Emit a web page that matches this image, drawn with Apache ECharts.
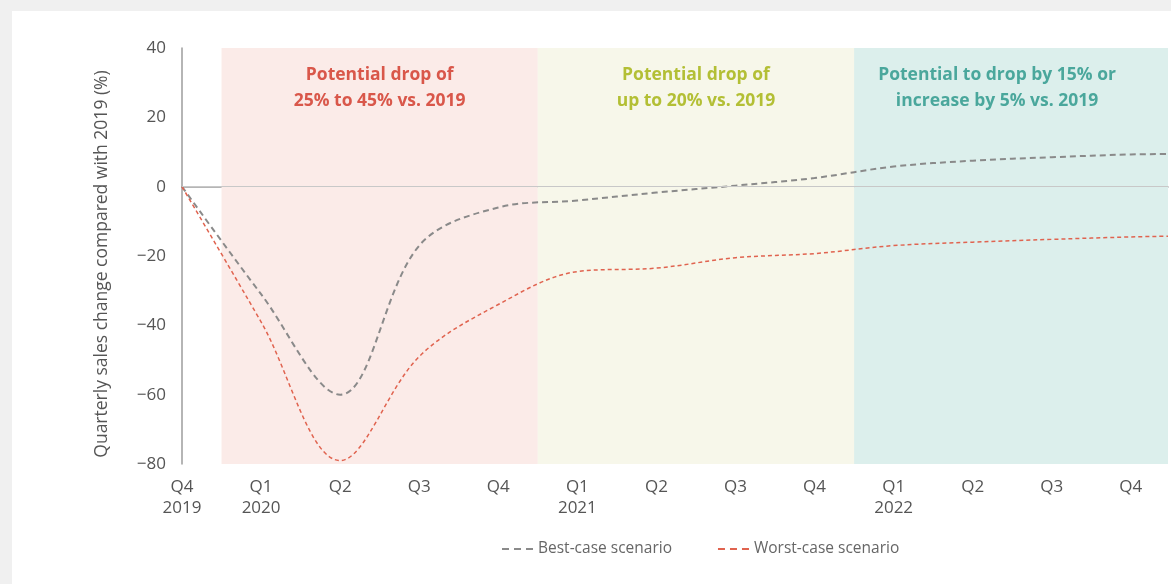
<!DOCTYPE html>
<html>
<head>
<meta charset="utf-8">
<script src="https://cdn.jsdelivr.net/npm/echarts@6/dist/echarts.min.js"></script>
<style>
  html, body { margin: 0; padding: 0; background: #f0f0f0; width: 1171px; height: 584px; overflow: hidden; }
  #card { position: absolute; left: 12px; top: 11px; right: -20px; bottom: -20px; background: #ffffff; }
  #chart { position: absolute; left: 0; top: 0; width: 1171px; height: 584px; }
</style>
</head>
<body>
<div id="card"></div>
<div id="chart"></div>
<script>
// Quarter tick labels, Q4 2019 through Q4 2022
const quarterLabels = ['Q4\n2019', 'Q1\n2020', 'Q2', 'Q3', 'Q4', 'Q1\n2021', 'Q2', 'Q3', 'Q4', 'Q1\n2022', 'Q2', 'Q3', 'Q4'];

// Quarterly sales change vs. 2019 (%) for each quarter above
const bestCase  = [0, -31, -60, -17, -6, -4, -1.7, 0.3, 2.5, 5.8, 7.5, 8.5, 9.3];
const worstCase = [0, -39, -79, -49, -34, -24.5, -23.5, -20.5, -19.3, -17, -16, -15.2, -14.5];
// Level carried to the right edge of the plot
const bestTail = 9.4;
const worstTail = -14.3;

const yTicks = [40, 20, 0, -20, -40, -60, -80];

// Scenario periods (in quarter index units) with their headlines
const periods = [
  { from: 0.5, to: 4.5, color: '#fbebe8', text: 'Potential drop of\n25% to 45% vs. 2019', textColor: '#d9574a', shift: 0 },
  { from: 4.5, to: 8.5, color: '#f7f7ea', text: 'Potential drop of\nup to 20% vs. 2019', textColor: '#b3bf35', shift: 0 },
  { from: 8.5, to: null, color: '#dcefec', text: 'Potential to drop by 15% or\nincrease by 5% vs. 2019', textColor: '#4aa79c', shift: -14 }
];

const xMax = 12.47;
const font = '"Open Sans", Lato, sans-serif';

function toPairs(values, tail) {
  const pts = values.map((v, i) => [i, v]);
  pts.push([xMax, tail]);
  return pts;
}

// Three short dashes, used as the legend key for both dashed lines
const dashIcon = 'path://M0,0h7v2h-7z M12,0h7v2h-7z M24,0h7v2h-7z';

const chart = echarts.init(document.getElementById('chart'), null, { renderer: 'canvas' });

chart.setOption({
  backgroundColor: 'transparent',
  animation: false,
  textStyle: { fontFamily: font },
  grid: { left: 182, top: 48, right: 1171 - 1168, bottom: 584 - 464, containLabel: false },
  legend: {
    bottom: 22,
    left: 497,
    icon: dashIcon,
    itemWidth: 31,
    itemHeight: 2,
    itemGap: 46,
    textStyle: { color: '#666', fontSize: 15.5, fontFamily: font },
    data: ['Best-case scenario', 'Worst-case scenario']
  },
  xAxis: {
    type: 'value',
    min: 0,
    max: xMax,
    interval: 1,
    splitLine: { show: false },
    axisLine: { show: true, lineStyle: { color: '#9d9d9d', width: 1.5 } },
    axisTick: { show: false },
    axisLabel: {
      color: '#555',
      fontSize: 17,
      lineHeight: 21,
      margin: 13,
      showMaxLabel: false,
      fontFamily: font,
      formatter: v => (Number.isInteger(v) && quarterLabels[v] !== undefined) ? quarterLabels[v] : ''
    }
  },
  yAxis: {
    type: 'value',
    min: -80,
    max: 40,
    interval: 20,
    name: 'Quarterly sales change compared with 2019 (%)',
    nameLocation: 'middle',
    nameGap: 71,
    nameTextStyle: { color: '#555', fontSize: 17.5, fontFamily: font, padding: [0, 16, 0, 0] },
    splitLine: { show: false },
    axisLine: { show: true, lineStyle: { color: '#9d9d9d', width: 1.5 } },
    axisTick: { show: false },
    axisLabel: {
      color: '#555',
      fontSize: 17,
      margin: 16,
      fontFamily: font,
      formatter: v => yTicks.includes(v) ? String(v).replace('-', '\u2212') : ''
    }
  },
  series: [
    {
      name: 'Best-case scenario',
      type: 'line',
      smooth: 0.35,
      symbol: 'none',
      z: 3,
      lineStyle: { color: '#8a8a8a', width: 2, type: [6, 4] },
      itemStyle: { color: '#8a8a8a' },
      data: toPairs(bestCase, bestTail),
      markArea: {
        silent: true,
        data: periods.map(p => [
          {
            xAxis: p.from,
            itemStyle: { color: p.color },
            label: {
              show: true,
              position: 'insideTop',
              distance: 14,
              offset: [p.shift, 0],
              formatter: p.text,
              color: p.textColor,
              fontSize: 17.5,
              fontWeight: 'bold',
              lineHeight: 26,
              fontFamily: font,
              align: 'center'
            }
          },
          { xAxis: p.to === null ? xMax : p.to }
        ])
      },
      markLine: {
        silent: true,
        symbol: 'none',
        label: { show: false },
        lineStyle: { color: '#c8c8c8', width: 1, type: 'solid' },
        data: [{ yAxis: 0 }]
      }
    },
    {
      name: 'Worst-case scenario',
      type: 'line',
      smooth: 0.35,
      symbol: 'none',
      z: 3,
      lineStyle: { color: '#e0634f', width: 1.5, type: [4, 3] },
      itemStyle: { color: '#e0634f' },
      data: toPairs(worstCase, worstTail)
    }
  ]
});
</script>
</body>
</html>
